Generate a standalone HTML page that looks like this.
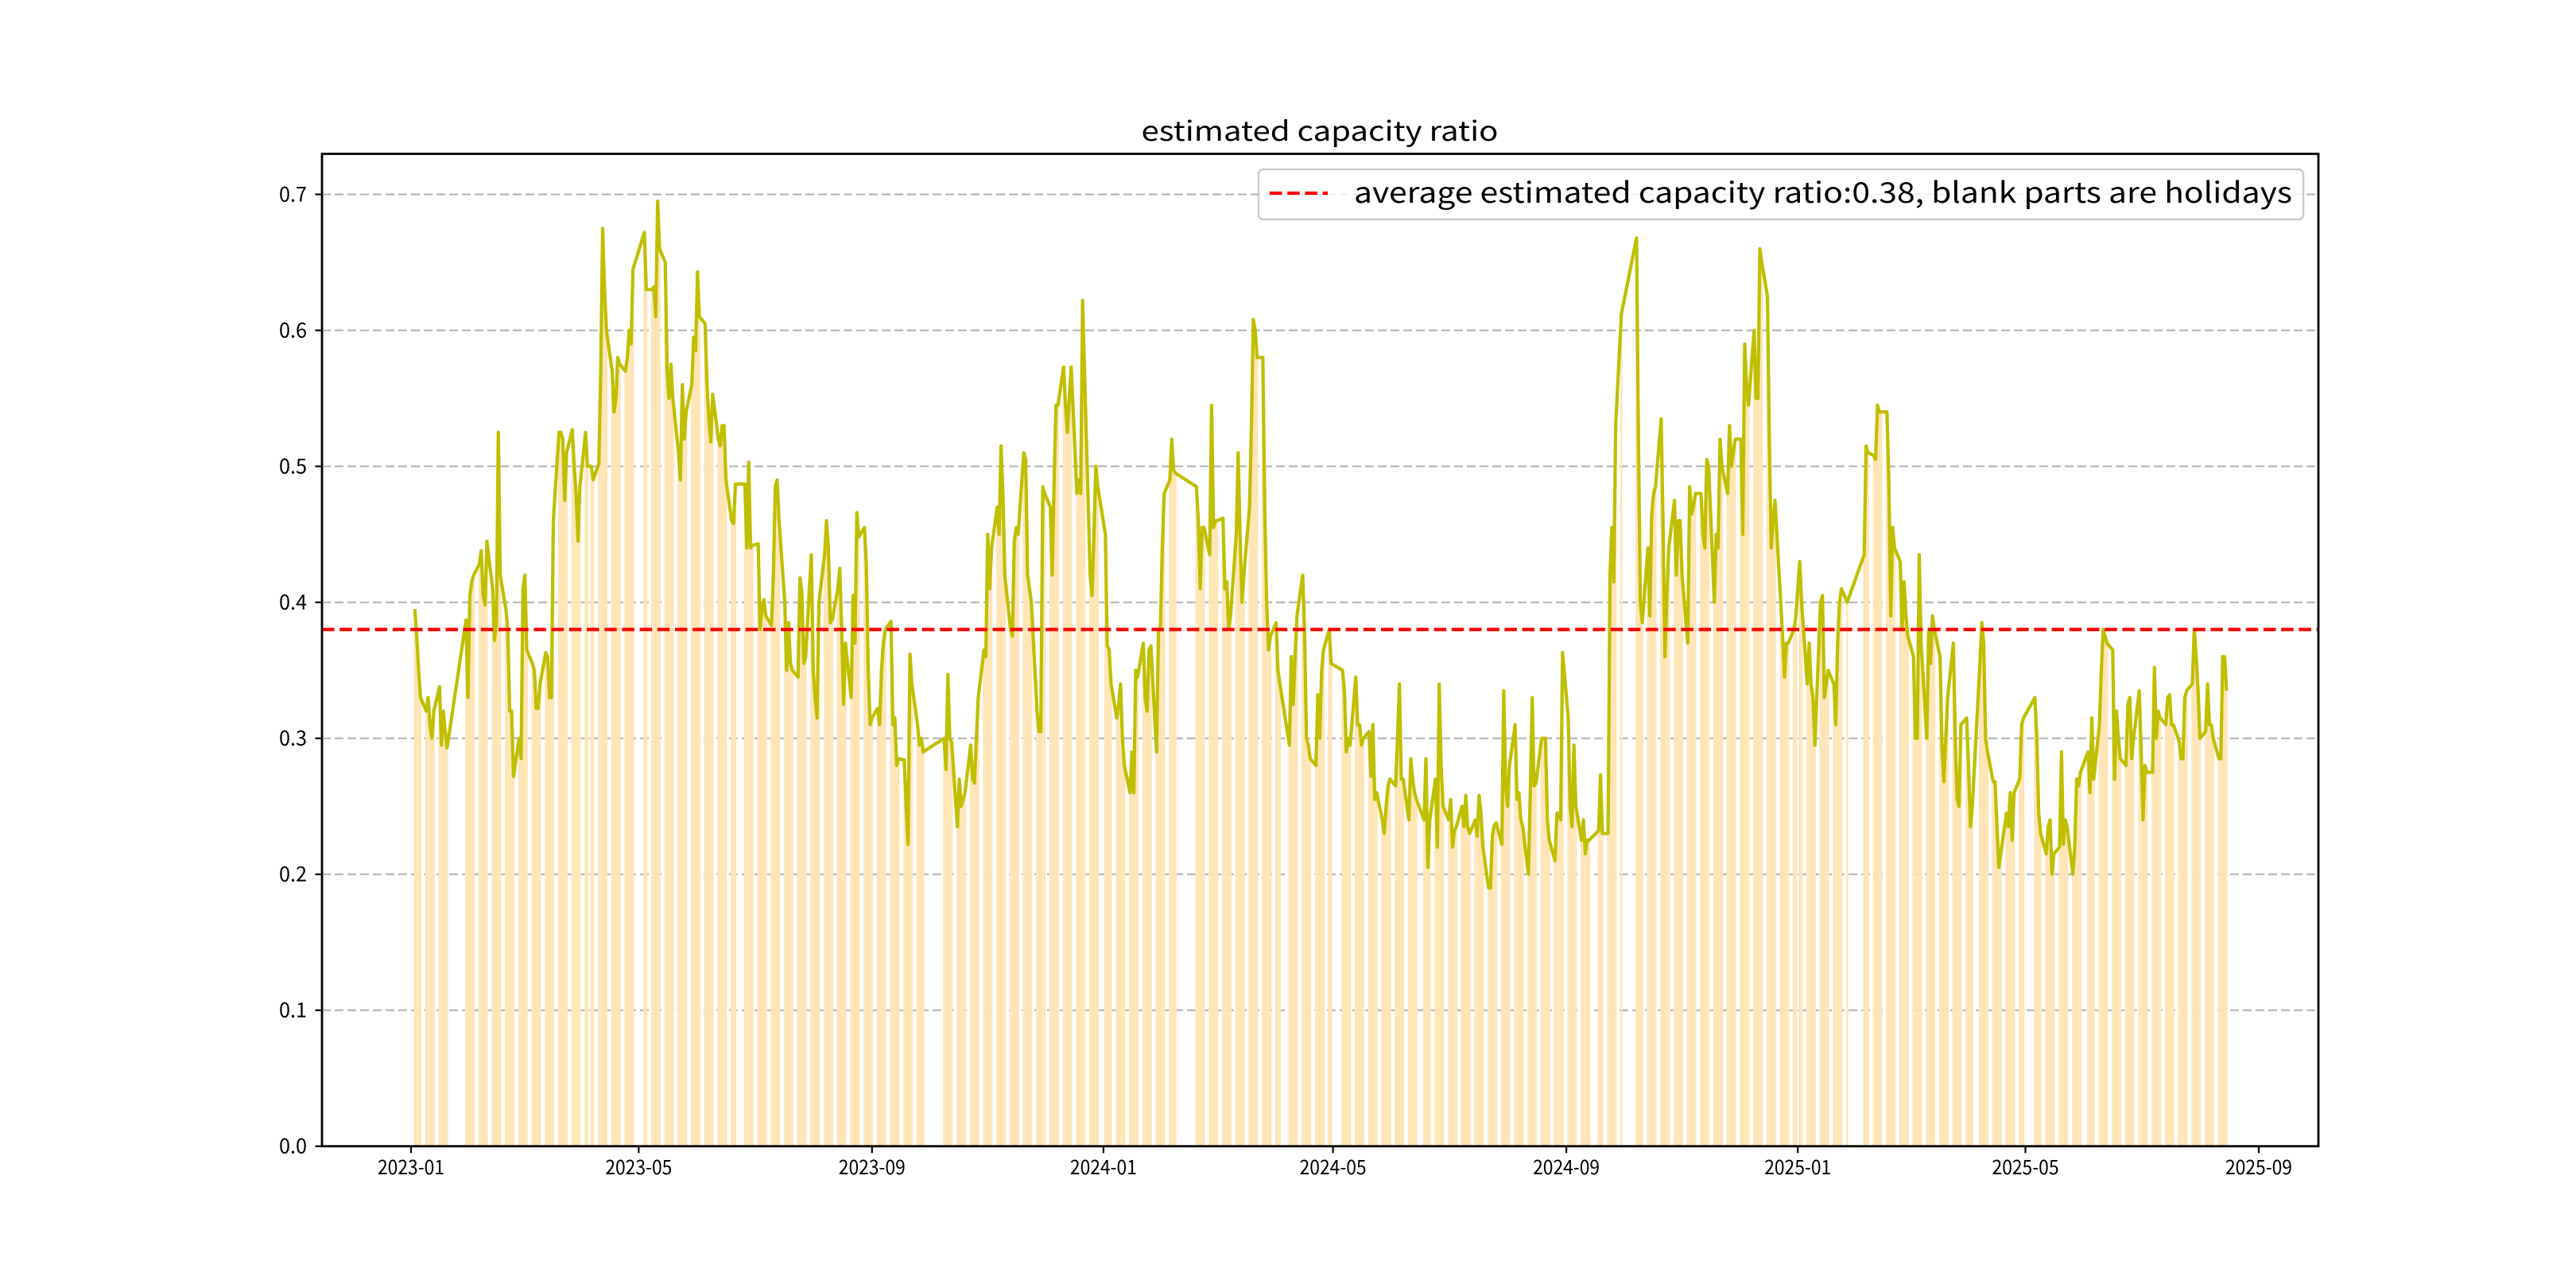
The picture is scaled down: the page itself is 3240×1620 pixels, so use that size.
<!DOCTYPE html>
<html><head><meta charset="utf-8"><title>estimated capacity ratio</title>
<style>
html,body{margin:0;padding:0;background:#fff;}
svg{display:block;}
text{font-family:"WenQuanYi Zen Hei","Noto Sans CJK SC","Liberation Sans",sans-serif;fill:#000;}
</style></head>
<body>
<svg id="chart" xmlns="http://www.w3.org/2000/svg" width="3240" height="1620" viewBox="0 0 3240 1620">
<rect x="0" y="0" width="3240" height="1620" fill="#fff"/>
<g id="grid"></g>
<g id="bars"></g>
<g id="lineg"></g>
<g id="avgg"></g>
<g id="axes"></g>
<text x="1660" y="177" font-size="34" text-anchor="middle" textLength="449" lengthAdjust="spacingAndGlyphs">estimated capacity ratio</text>
<g>
<rect x="1583" y="213" width="1314" height="63" rx="6" fill="#fff" fill-opacity="0.8" stroke="#cccccc" stroke-width="2.5"/>
<line x1="1597" y1="243" x2="1670" y2="243" stroke="#ff0000" stroke-width="4.2" stroke-dasharray="15.5 6.7"/>
<text x="1703" y="255" font-size="36" textLength="1180" lengthAdjust="spacingAndGlyphs">average estimated capacity ratio:0.38, blank parts are holidays</text>
</g>
</svg>
<script>
// ---- data ----
const startMonday = "2023-01-02";
const avgValue = 0.38;
const yTicks = [0.0, 0.1, 0.2, 0.3, 0.4, 0.5, 0.6, 0.7];
const yTickLabels = ["0.0","0.1","0.2","0.3","0.4","0.5","0.6","0.7"];
const xTickDates = ["2023-01-01","2023-05-01","2023-09-01","2024-01-01","2024-05-01","2024-09-01","2025-01-01","2025-05-01","2025-09-01"];
const xTickLabels = ["2023-01","2023-05","2023-09","2024-01","2024-05","2024-09","2025-01","2025-05","2025-09"];
const weekValues = [
[null,0.395,0.375,0.35,0.33],[0.32,0.33,0.31,0.30,0.32],[0.338,0.295,0.32,0.305,0.293],[null,null,null,null,null],
[0.387,0.33,0.405,0.415,0.42],[0.428,0.438,0.405,0.398,0.445],[0.41,0.372,0.385,0.525,0.42],[0.395,0.38,0.32,0.32,0.272],
[0.30,0.285,0.41,0.42,0.365],[0.355,0.35,0.322,0.322,0.34],[0.363,0.36,0.33,0.33,0.46],[0.525,0.525,0.52,0.475,0.51],
[0.527,0.50,0.48,0.445,0.485],[0.525,0.50,null,0.50,0.49],[0.502,0.57,0.675,0.63,0.60],[0.57,0.54,0.55,0.58,0.575],
[0.57,0.58,0.60,0.59,0.645],[null,null,null,0.672,0.63],[0.63,0.632,0.61,0.695,0.66],[0.65,0.57,0.55,0.575,0.55],
[0.51,0.49,0.56,0.52,0.54],[0.56,0.595,0.585,0.643,0.61],[0.605,0.56,0.535,0.518,0.553],[0.52,0.515,0.53,0.53,0.49],
[0.46,0.458,0.487,null,null],[0.487,0.44,0.503,0.44,0.442],[0.443,0.38,0.395,0.402,0.39],[0.383,0.42,0.485,0.49,0.46],
[0.40,0.35,0.385,0.355,0.35],[0.345,0.418,0.408,0.355,0.36],[0.435,0.35,0.33,0.315,0.40],[0.435,0.46,0.44,0.385,0.387],
[0.41,0.425,0.38,0.325,0.37],[0.33,0.405,0.37,0.466,0.448],[0.455,0.428,0.35,0.31,0.315],[0.322,0.31,0.35,0.37,0.38],
[0.386,0.31,0.315,0.28,0.285],[0.284,0.25,0.222,0.362,0.34],[0.31,0.295,0.30,0.29,null],[null,null,null,null,null],
[0.30,0.277,0.347,0.30,0.297],[0.235,0.27,0.25,0.255,0.26],[0.295,0.27,0.267,0.30,0.33],[0.365,0.36,0.45,0.41,0.44],
[0.47,0.45,0.515,0.48,0.42],[0.38,0.375,0.445,0.455,0.45],[0.51,0.505,0.42,0.41,0.40],[0.32,0.305,0.305,0.485,0.48],
[0.47,0.42,0.49,0.545,0.545],[0.573,0.545,0.525,0.55,0.573],[0.48,0.49,0.48,0.622,0.57],[0.42,0.405,0.45,0.50,0.485],
[null,0.45,0.368,0.365,0.34],[0.315,0.325,0.34,0.30,0.28],[0.26,0.29,0.26,0.35,0.345],[0.37,0.33,0.32,0.365,0.368],
[0.29,0.38,0.38,0.44,0.48],[0.49,0.52,0.497,0.495,null],[null,null,null,null,null],[0.485,0.46,0.41,0.455,0.455],
[0.435,0.545,0.455,0.46,0.46],[0.462,0.41,0.415,0.38,0.39],[0.45,0.51,0.45,0.40,0.42],[0.47,0.53,0.608,0.60,0.58],
[0.58,0.47,0.40,0.365,0.375],[0.385,0.35,0.34,null,null],[0.295,0.36,0.325,0.36,0.39],[0.42,0.38,0.30,0.295,0.285],
[0.28,0.332,0.30,0.35,0.365],[0.38,0.355,null,null,null],[0.35,0.335,0.29,0.30,0.295],[0.345,0.31,0.31,0.295,0.30],
[0.305,0.272,0.31,0.255,0.26],[0.24,0.23,0.25,0.265,0.27],[0.265,0.30,0.34,0.27,0.27],[0.24,0.285,0.27,0.26,0.255],
[null,0.24,0.285,0.205,0.24],[0.27,0.22,0.34,0.28,0.25],[0.24,0.255,0.22,0.232,0.235],[0.25,0.235,0.258,0.235,0.23],
[0.24,0.228,0.258,0.245,0.22],[0.19,0.19,0.228,0.236,0.238],[0.222,0.335,0.265,0.25,0.28],[0.31,0.255,0.26,0.24,0.235],
[0.20,0.26,0.33,0.265,0.267],[0.30,0.30,0.30,0.24,0.225],[0.21,0.245,0.245,0.24,0.363],[0.315,0.25,0.235,0.295,0.25],
[0.225,0.24,0.215,0.225,0.225],[null,null,0.232,0.273,0.23],[0.23,0.42,0.455,0.415,0.53],[0.612,null,null,null,null],
[null,0.668,0.52,0.40,0.385],[0.44,0.39,0.465,0.48,0.485],[0.535,0.455,0.36,0.405,0.44],[0.475,0.42,0.46,0.46,0.42],
[0.37,0.485,0.465,0.47,0.48],[0.48,0.45,0.44,0.505,0.50],[0.40,0.45,0.44,0.52,0.50],[0.48,0.53,0.50,0.51,0.52],
[0.52,0.45,0.59,0.56,0.545],[0.60,0.55,0.55,0.66,0.65],[0.625,0.52,0.44,0.46,0.475],[0.40,0.375,0.345,0.37,0.37],
[0.38,0.39,null,0.43,0.40],[0.34,0.37,0.34,0.33,0.295],[0.40,0.405,0.33,0.34,0.35],[0.34,0.31,0.37,0.40,0.41],
[0.40,null,null,null,null],[null,null,0.435,0.515,0.51],[0.508,0.505,0.545,0.54,0.54],[0.54,0.49,0.39,0.455,0.44],
[0.43,0.38,0.415,0.39,0.375],[0.36,0.30,0.30,0.435,0.37],[0.30,0.38,0.355,0.39,0.38],[0.36,0.295,0.268,0.30,0.33],
[0.37,0.30,0.255,0.25,0.31],[0.315,0.28,0.235,0.25,null],[0.355,0.385,0.37,0.30,0.29],[0.268,0.268,0.235,0.205,0.215],
[0.245,0.235,0.26,0.225,0.26],[0.27,0.31,0.315,null,null],[null,0.33,0.30,0.245,0.23],[0.215,0.235,0.24,0.20,0.215],
[0.22,0.29,0.222,0.24,0.235],[0.20,0.22,0.27,0.265,0.275],[null,0.29,0.26,0.315,0.27],[0.31,0.35,0.38,0.375,0.37],
[0.365,0.27,0.32,0.30,0.285],[0.28,0.325,0.33,0.285,0.30],[0.335,0.29,0.24,0.28,0.275],[0.275,0.352,0.30,0.32,0.315],
[0.31,0.33,0.332,0.31,0.31],[0.298,0.285,0.285,0.33,0.335],[0.34,0.38,0.36,0.335,0.30],[0.305,0.34,0.31,0.31,0.30],
[0.285,0.285,0.36,0.36,0.335]
];
// ---- layout ----
const AX = {l:405, r:2916, t:193.5, b:1441.7};
const DAY = 86400000;
const origin = Date.UTC(2023,0,1);
const pxPerDay = (2841 - 517) / 974;
function dayIndex(s){ const p=s.split('-'); return (Date.UTC(+p[0],+p[1]-1,+p[2])-origin)/DAY; }
function xScale(d){ return 517 + d*pxPerDay; }
const yMax = 0.7298;
function yScale(v){ return AX.b - v/yMax*(AX.b-AX.t); }
const NS = "http://www.w3.org/2000/svg";
function mk(tag, attrs, parent){ const e=document.createElementNS(NS,tag); for(const k in attrs) e.setAttribute(k,attrs[k]); parent.appendChild(e); return e; }

// flatten daily series
const startDay = dayIndex(startMonday);
const days = [], vals = [];
weekValues.forEach((wk,k)=>{ wk.forEach((v,i)=>{ if(v!==null){ days.push(startDay+7*k+i); vals.push(v);} }); });

// grid
const grid = document.getElementById('grid');
yTicks.forEach((t,i)=>{ if(i===0) return;
  const g = mk('line',{x1:AX.l,x2:AX.r,y1:yScale(t),y2:yScale(t),stroke:'#b0b0b0','stroke-width':2,'stroke-dasharray':'11 5'},grid);
  
  
});
// bars
const barsG = document.getElementById('bars');
const bw = pxPerDay*1.02;
days.forEach((d,i)=>{
  const x = xScale(d) - bw/2, y = yScale(vals[i]);
  const r = mk('rect',{x:x.toFixed(2),y:y.toFixed(2),width:bw.toFixed(2),height:(AX.b-y).toFixed(2),fill:'#ffe4b5'},barsG);
  
  
});
// line
const lineG = document.getElementById('lineg');
const pts = days.map((d,i)=>xScale(d).toFixed(2)+','+yScale(vals[i]).toFixed(2)).join(' ');
const pl = mk('polyline',{points:pts,fill:'none',stroke:'#bfbf00','stroke-width':4.2,'stroke-linejoin':'round'},lineG);


// average line
const avgG = document.getElementById('avgg');
const al = mk('line',{x1:AX.l,x2:AX.r,y1:yScale(avgValue),y2:yScale(avgValue),stroke:'#ff0000','stroke-width':4.2,'stroke-dasharray':'15.5 6.7'},avgG);


// axes frame
const axes = document.getElementById('axes');
const fr = mk('rect',{x:AX.l,y:AX.t,width:AX.r-AX.l,height:AX.b-AX.t,fill:'none',stroke:'#000','stroke-width':2.8},axes);


yTicks.forEach((t,i)=>{
  const y=yScale(t);
  const tk = mk('line',{x1:AX.l-8.5,x2:AX.l,y1:y,y2:y,stroke:'#000','stroke-width':2.2},axes);
  
  
  const tx = mk('text',{x:386,y:y+9,'font-size':26,'text-anchor':'end',textLength:35,lengthAdjust:'spacingAndGlyphs'},axes);
  tx.textContent = yTickLabels[i];
  
  
});
xTickDates.forEach((s,i)=>{
  const x=xScale(dayIndex(s));
  const tk = mk('line',{x1:x,x2:x,y1:AX.b,y2:AX.b+8.5,stroke:'#000','stroke-width':2.2},axes);
  
  
  const tx = mk('text',{x:x,y:1477,'font-size':25,'text-anchor':'middle',textLength:84,lengthAdjust:'spacingAndGlyphs'},axes);
  tx.textContent = xTickLabels[i];
  
  
});
</script>
</body></html>
